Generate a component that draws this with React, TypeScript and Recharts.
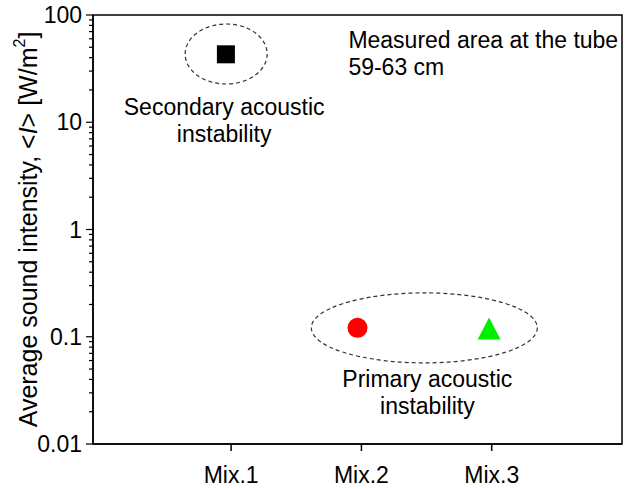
import * as React from 'react';
import {
    ScatterChart, Scatter, XAxis, YAxis, ReferenceArea, ReferenceDot
} from 'recharts';

// categories and measured values
const mixLabels = ['Mix.1', 'Mix.2', 'Mix.3'];
const mixTicks = [1, 2, 3];
const mixX = [0.96, 1.97, 2.98];
const intensity = [43, 0.121, 0.117];

const majorTicks = [0.01, 0.1, 1, 10, 100];
const minorSteps = [2, 3, 4, 5, 6, 7, 8, 9];
const yTicks = [
    ...majorTicks,
    ...majorTicks.slice(0, -1).flatMap((d) => minorSteps.map((m) => +(d * m).toPrecision(3))),
];

const X_DOMAIN: [number, number] = [-0.06, 4];
const Y_DOMAIN: [number, number] = [0.01, 100];

const FONT = '"Liberation Sans", Arial, sans-serif';
const FS = 23;

const point = (i: number) => [{ x: mixX[i], y: intensity[i] }];

const Square = ({ cx, cy }: any) => <rect x={cx - 9} y={cy - 9} width={18} height={18} fill="#000" />;
const Dot = ({ cx, cy }: any) => <circle cx={cx} cy={cy} r={10} fill="#ff0000" />;
const Tri = ({ cx, cy }: any) => (
    <polygon points={`${cx},${cy - 12} ${cx + 11.5},${cy + 10} ${cx - 11.5},${cy + 10}`} fill="#00ee00" />
);

const ellipse = (rx: number, ry: number) => ({ cx, cy }: any) => (
    <ellipse cx={cx} cy={cy} rx={rx} ry={ry} fill="none" stroke="#333" strokeWidth={1.2} strokeDasharray="4 3" />
);

const textBlock = (lines: string[], dy0: number, anchor: 'start' | 'middle', dx = 0) => ({ cx, cy }: any) => (
    <text x={cx + dx} y={cy + dy0} textAnchor={anchor} fontFamily={FONT} fontSize={FS} fill="#000">
        {lines.map((l, i) => (
            <tspan key={i} x={cx + dx} dy={i === 0 ? 0 : 27}>{l}</tspan>
        ))}
    </text>
);

const YTick = ({ x, y, payload }: any) => {
    const major = majorTicks.includes(payload.value);
    return (
        <g>
            <line x1={x - (major ? 7 : 4)} x2={x} y1={y} y2={y} stroke="#000" strokeWidth={1.2} />
            {major && (
                <text x={x - 11} y={y} dy={8} textAnchor="end" fontFamily={FONT} fontSize={FS} fill="#000">
                    {String(payload.value)}
                </text>
            )}
        </g>
    );
};

const XTick = ({ x, y, payload }: any) => (
    <g>
        <line x1={x} x2={x} y1={y} y2={y + 7} stroke="#000" strokeWidth={1.5} />
        <text x={x} y={y + 39} textAnchor="middle" fontFamily={FONT} fontSize={FS} fill="#000">
            {mixLabels[mixTicks.indexOf(payload.value)]}
        </text>
    </g>
);

const YLabel = ({ viewBox }: any) => {
    const cx = viewBox.x + 28;
    const cy = viewBox.y + viewBox.height / 2;
    return (
        <text x={cx} y={cy} transform={`rotate(-90 ${cx} ${cy})`} textAnchor="middle" dominantBaseline="central"
            fontFamily={FONT} fontSize={25} fill="#000">
            Average sound intensity, &lt;<tspan fontStyle="italic">I</tspan>&gt; [W/m<tspan dy={-9} fontSize={16}>2</tspan><tspan dy={9}>]</tspan>
        </text>
    );
};

export default function App() {
    return (
        <div style={{ position: 'absolute', left: 0, top: 0 }}>
            <ScatterChart width={633} height={489} margin={{ top: 15, right: 11, left: 0, bottom: 0 }}>
                <XAxis type="number" dataKey="x" domain={X_DOMAIN} ticks={mixTicks} interval={0}
                    allowDataOverflow height={45} tickSize={0} tickMargin={0}
                    axisLine={{ stroke: '#000', strokeWidth: 1.5 }} tickLine={false} tick={<XTick />} />
                <YAxis type="number" dataKey="y" scale="log" domain={Y_DOMAIN} ticks={yTicks} interval={0}
                    allowDataOverflow width={93} tickSize={0} tickMargin={0}
                    axisLine={{ stroke: '#000', strokeWidth: 1.5 }} tickLine={false} tick={<YTick />}
                    label={<YLabel />} />
                <ReferenceArea x1={X_DOMAIN[0]} x2={X_DOMAIN[1]} y1={Y_DOMAIN[0]} y2={Y_DOMAIN[1]}
                    fill="none" fillOpacity={0} stroke="#000" strokeWidth={1.5} ifOverflow="visible" />
                <ReferenceDot x={0.962} y={43.3} shape={ellipse(41, 30)} ifOverflow="visible" />
                <ReferenceDot x={2.483} y={0.121} shape={ellipse(113, 35)} ifOverflow="visible" />
                <ReferenceDot x={0.962} y={43.3} shape={textBlock(['Secondary acoustic', 'instability'], 61, 'middle', -2)} ifOverflow="visible" />
                <ReferenceDot x={2.483} y={0.121} shape={textBlock(['Primary acoustic', 'instability'], 59, 'middle', 3)} ifOverflow="visible" />
                <ReferenceDot x={1.9} y={100} shape={textBlock(['Measured area at the tube', '59-63 cm'], 33, 'start')} ifOverflow="visible" />
                <Scatter data={point(0)} shape={<Square />} isAnimationActive={false} />
                <Scatter data={point(1)} shape={<Dot />} isAnimationActive={false} />
                <Scatter data={point(2)} shape={<Tri />} isAnimationActive={false} />
            </ScatterChart>
        </div>
    );
}
